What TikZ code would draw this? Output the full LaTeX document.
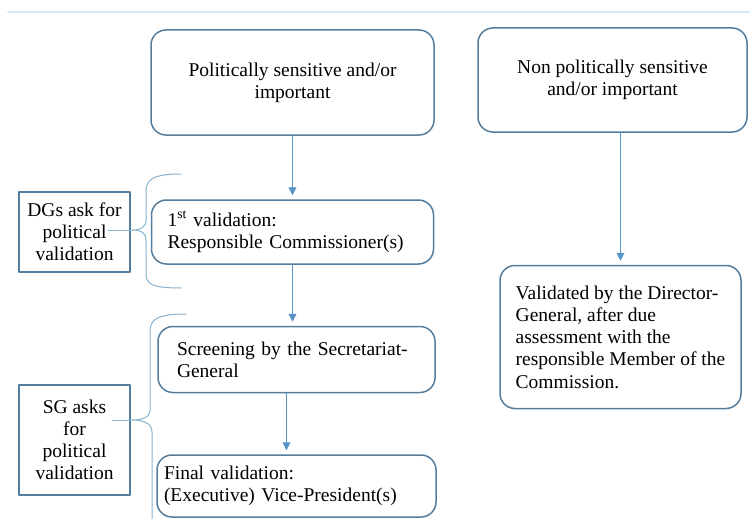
\documentclass[tikz,border=0pt]{standalone}
\usepackage{fontspec}
\setmainfont{Liberation Serif}
\usetikzlibrary{arrows.meta}
\definecolor{boxblue}{RGB}{84,124,156}
\definecolor{arrowblue}{RGB}{88,148,200}
\definecolor{braceblue}{RGB}{135,178,208}
\definecolor{ruleblue}{RGB}{212,232,247}

\begin{document}
\begin{tikzpicture}[x=1pt,y=-1pt,line cap=round,line join=round,
		stage/.style={draw=boxblue,line width=1.5pt,rounded corners=15pt,font=\fontsize{19.5}{22.3}\selectfont,inner ysep=0pt},
		askbox/.style={draw=boxblue,line width=1.5pt,font=\fontsize{19.5}{22}\selectfont,align=center,inner sep=0pt},
		flow/.style={draw=arrowblue,line width=0.9pt,-{Triangle[length=8pt,width=8pt]},shorten >=4pt},
		brace/.style={draw=braceblue,line width=1pt}]
		\useasboundingbox (0,0) rectangle (750,519);
		\draw [ruleblue,line width=2pt] (8,12)-- (750,12);
		% the two kinds of files
		\node[stage,align=center,minimum width=283pt,minimum height=105pt] (pol) at (292.5,82.5) {Politically sensitive and/or\\important};
		\node[stage,align=center,minimum width=269pt,minimum height=104pt] (nonpol) at (612.5,80) {Non politically sensitive\\and/or important};
		% political path
		\node[stage,align=left,text width=250pt,inner xsep=16pt,minimum height=64pt] (first) at (292.5,232) {1\textsuperscript{st} validation:\\Responsible Commissioner(s)};
		\node[stage,align=left,text width=239pt,inner xsep=19pt,minimum height=66pt] (screen) at (296.5,359.5) {Screening by the Secretariat-\\General};
		\node[stage,align=left,text width=265pt,inner xsep=7pt,minimum height=62pt] (final) at (296.5,486) {Final validation:\\(Executive) Vice-President(s)};
		% non political path
		\node[stage,align=left,minimum width=241pt,minimum height=143pt] (dgval) at (620.5,337) {Validated by the Director-\\General, after due\\assessment with the\\responsible Member of the\\Commission.};
		% who asks
		\node[askbox,minimum width=111pt,minimum height=80pt] (dgask) at (74.5,232) {DGs ask for\\political\\validation};
		\node[askbox,minimum width=111pt,minimum height=110pt] (sgask) at (74.5,440) {SG asks\\for\\political\\validation};
		% arrows
		\draw [flow] (pol.south)-- (first.north);
		\draw [flow] (first.south)-- (first.south |- screen.north);
		\draw [flow] ([xshift=-10pt]screen.south)-- ([xshift=-10pt]screen.south |- final.north);
		\draw [flow] (dgval.north |- nonpol.south)-- (dgval.north);
		% brackets
		\coordinate (dgtip) at (133,230);
		\coordinate (sgtip) at (132,420);
		\draw [brace] (181,174) .. controls (152,174) and (146,180) .. (146,192) -- (146,220) .. controls (146,227) and (141,230) .. (dgtip) .. controls (141,230) and (146,233) .. (146,240) -- (146,274) .. controls (146,284) and (152,288) .. (181,288);
		\draw [brace] (dgtip)-- ++(-25,0);
		\draw [brace] (186,314) .. controls (156,314) and (150,320) .. (150,332) -- (150,410) .. controls (150,417) and (143,420) .. (sgtip) .. controls (143,420) and (152,423) .. (152,432) -- (152,519);
		\draw [brace] (sgtip)-- ++(-20,0);
	\end{tikzpicture}
\end{document}
